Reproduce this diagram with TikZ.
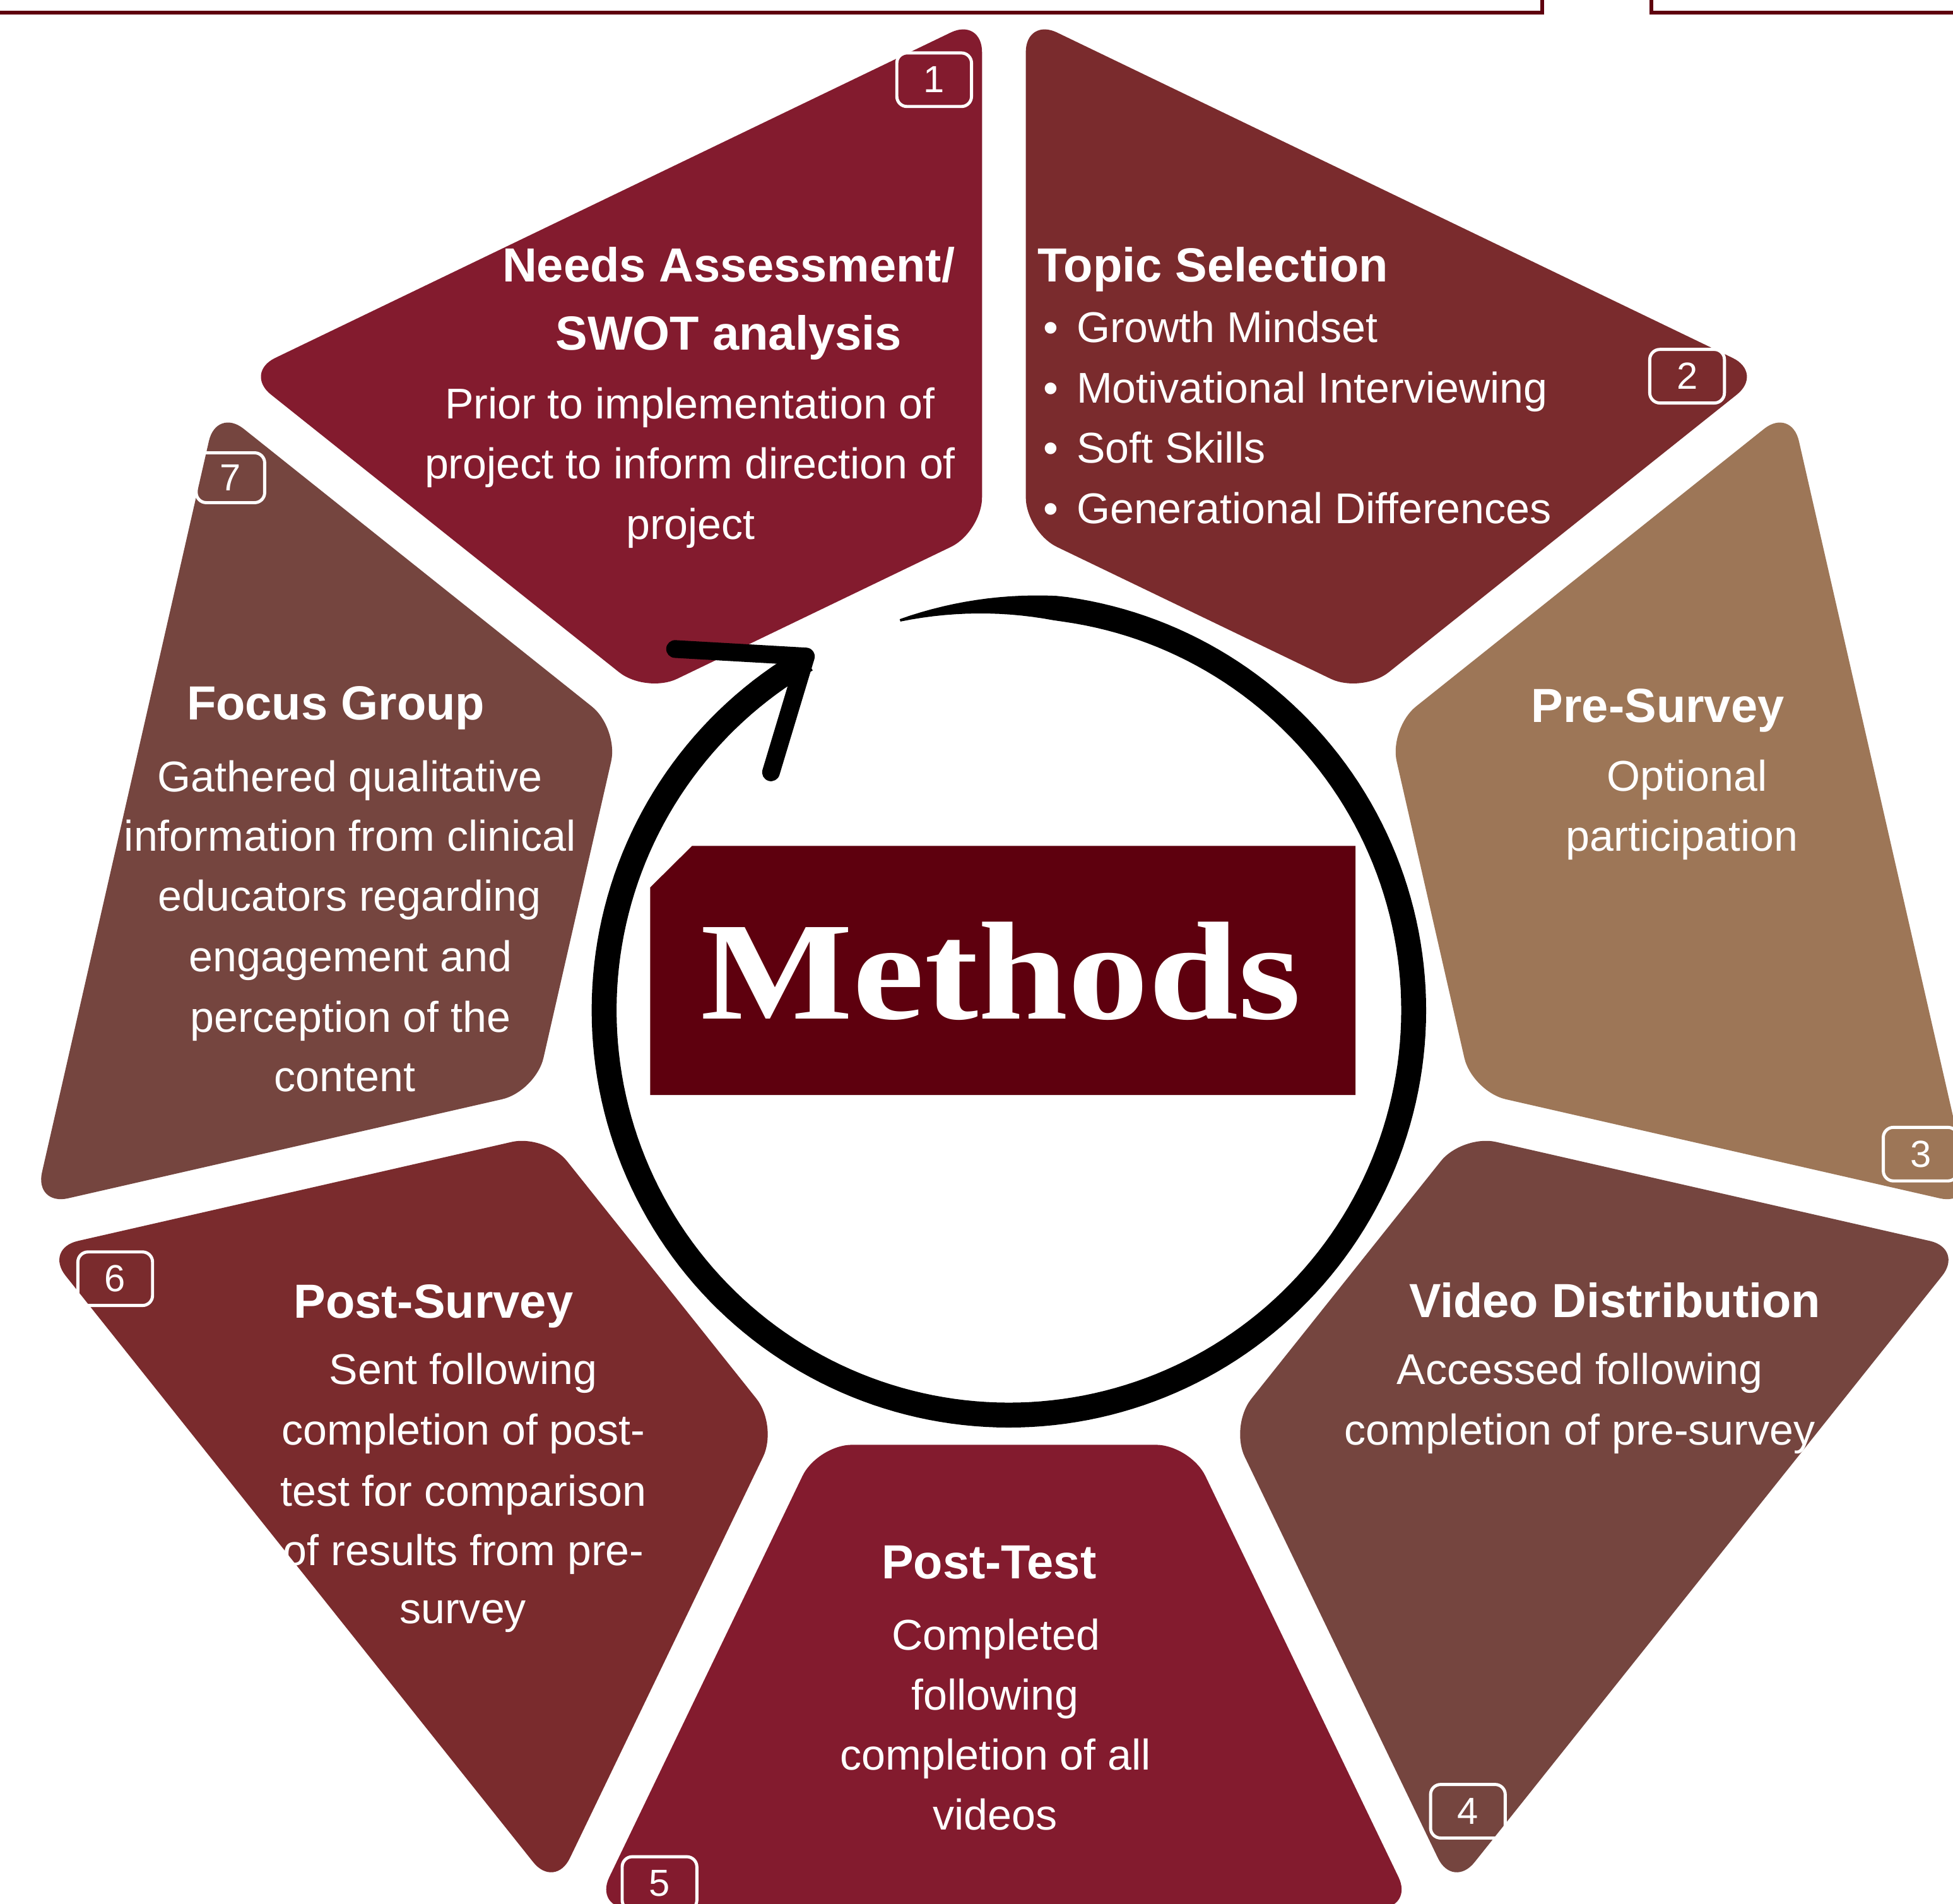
\documentclass[tikz,border=0pt]{standalone}
\usepackage{fontspec}
\setmainfont{Liberation Sans}
\newfontfamily\methodsfont{Liberation Serif}
\usetikzlibrary{calc}
\definecolor{segcrimson}{HTML}{831B2E}
\definecolor{segredbrown}{HTML}{7A2B2D}
\definecolor{segtan}{HTML}{9D7657}
\definecolor{segbrown}{HTML}{75453F}
\definecolor{methodsred}{HTML}{5E000E}
\newcommand\drawseg[2]{%
  \pgfmathsetmacro\sa{-141.4286+51.4286*(#1-1)}%
  \pgfmathsetmacro\sb{\sa+51.4286}%
  \pgfmathsetmacro\sm{\sa+25.7143}%
  \coordinate (o#1) at ($(C)+(\sm:40.5)$);
  \fill[#2, segstyle] ($(o#1)+(\sa:345)$) -- ($(o#1)+(\sa:758)$) -- ($(o#1)+(\sb:758)$) -- ($(o#1)+(\sb:345)$) -- cycle;
}
\begin{document}
\begin{tikzpicture}[x=0.0197385cm, y=-0.0197385cm,
  segstyle/.style={rounded corners=0.55cm},
  ttl/.style={text=white, font=\fontsize{21.6}{26}\selectfont\bfseries, anchor=base, inner sep=0pt},
  bdy/.style={text=white, font=\fontsize{19.4}{24}\selectfont, anchor=base, inner sep=0pt},
  numbox/.style={draw=white, line width=1.4pt, rounded corners=0.16cm, text=white,
    font=\fontsize{17}{20}\selectfont, minimum width=1.184cm, minimum height=0.849cm, inner sep=0pt},
  frame/.style={draw=methodsred, line width=1.7pt}]
\useasboundingbox (0,0) rectangle (1568,1528);
\clip (0,0) rectangle (1568,1528);
\fill[white] (0,0) rectangle (1568,1528);
\coordinate (C) at (806,808.5);
% top frame lines
\draw[frame] (-5,10) -- (1238,10) -- (1238,-5);
\draw[frame] (1326,-5) -- (1326,10) -- (1575,10);
% segments
\drawseg{1}{segcrimson}
\drawseg{2}{segredbrown}
\drawseg{3}{segtan}
\drawseg{4}{segbrown}
\drawseg{5}{segcrimson}
\drawseg{6}{segredbrown}
\drawseg{7}{segbrown}
% circular arrow
\coordinate (RC) at (810,811);
\fill[black] plot[domain=-105.6:240, samples=220, variable=\t]
  ({810+(325+0.5*min(20,2+0.8*(\t+105.6)))*cos(\t)}, {811+(325+0.5*min(20,2+0.8*(\t+105.6)))*sin(\t)})
  -- plot[domain=240:-105.6, samples=220, variable=\t]
  ({810+(325-0.5*min(20,2+0.8*(\t+105.6)))*cos(\t)}, {811+(325-0.5*min(20,2+0.8*(\t+105.6)))*sin(\t)})
  -- cycle;
\coordinate (tip) at (647,527);
\coordinate (armA) at (542,521);
\coordinate (armB) at (619,620);
\draw[line width=8pt, line cap=round, line join=round] (armA) -- (tip) -- (armB);
% Methods box
\fill[methodsred] (555.7,679) -- (1088.3,679) -- (1088.3,879) -- (522,879) -- (522,712.4) -- cycle;
\node[anchor=base, text=white, inner sep=0pt, font=\methodsfont\bfseries\fontsize{63}{70}\selectfont] (methods) at (803.5,818) {\scalebox{1.155}[1]{Methods}};
% number boxes
\node[numbox] (n1) at (750,64) {1};
\node[numbox] (n2) at (1354.5,302) {2};
\node[numbox] (n3) at (1542,926.5) {3};
\node[numbox] (n4) at (1178.5,1454) {4};
\node[numbox] (n5) at (529.5,1512) {5};
\node[numbox] (n6) at (92.5,1026.5) {6};
\node[numbox, minimum width=1.086cm, minimum height=0.79cm] (n7) at (185,383.5) {7};
% segment 1
\node[ttl] (s1t1) at (585,226) {Needs Assessment/};
\node[ttl] (s1t2) at (585,281) {SWOT analysis};
\node[bdy] (s1b1) at (554,336) {Prior to implementation of};
\node[bdy] (s1b2) at (554,384.5) {project to inform direction of};
\node[bdy] (s1b3) at (554.5,433) {project};
% segment 2
\node[ttl, anchor=base west] (s2t1) at (833,226) {Topic Selection};
\node[bdy] (s2d1) at (843.5,275) {•};
\node[bdy, anchor=base west] (s2b1) at (864,275) {Growth Mindset};
\node[bdy] (s2d2) at (843.5,323.5) {•};
\node[bdy, anchor=base west] (s2b2) at (864,323.5) {Motivational Interviewing};
\node[bdy] (s2d3) at (843.5,371.5) {•};
\node[bdy, anchor=base west] (s2b3) at (864,371.5) {Soft Skills};
\node[bdy] (s2d4) at (843.5,420) {•};
\node[bdy, anchor=base west] (s2b4) at (864,420) {Generational Differences};
% segment 3
\node[ttl] (s3t1) at (1331,580) {Pre-Survey};
\node[bdy] (s3b1) at (1354.4,635) {Optional};
\node[bdy] (s3b2) at (1350.4,683.4) {participation};
% segment 4
\node[ttl] (s4t1) at (1296.5,1057.5) {Video Distribution};
\node[bdy] (s4b1) at (1268.3,1111.5) {Accessed following};
\node[bdy] (s4b2) at (1268.3,1160) {completion of pre-survey};
% segment 5
\node[ttl] (s5t1) at (794,1267.4) {Post-Test};
\node[bdy] (s5b1) at (799.6,1324.6) {Completed};
\node[bdy] (s5b2) at (799,1372.8) {following};
\node[bdy] (s5b3) at (799.3,1421) {completion of all};
\node[bdy] (s5b4) at (799,1469) {videos};
% segment 6
\node[ttl] (s6t1) at (348,1058) {Post-Survey};
\node[bdy] (s6b1) at (371.8,1111.2) {Sent following};
\node[bdy] (s6b2) at (372.2,1160) {completion of post-};
\node[bdy] (s6b3) at (372.2,1209) {test for comparison};
\node[bdy] (s6b4) at (372.2,1256.6) {of results from pre-};
\node[bdy] (s6b5) at (371.7,1303.4) {survey};
% segment 7
\node[ttl] (s7t1) at (269.6,577.6) {Focus Group};
\node[bdy] (s7b1) at (281.1,635.5) {Gathered qualitative};
\node[bdy] (s7b2) at (281.1,683) {information from clinical};
\node[bdy] (s7b3) at (280.7,731.4) {educators regarding};
\node[bdy] (s7b4) at (281.5,779.8) {engagement and};
\node[bdy] (s7b5) at (281.5,828.6) {perception of the};
\node[bdy] (s7b6) at (276.8,876.2) {content};
\end{tikzpicture}
\end{document}
